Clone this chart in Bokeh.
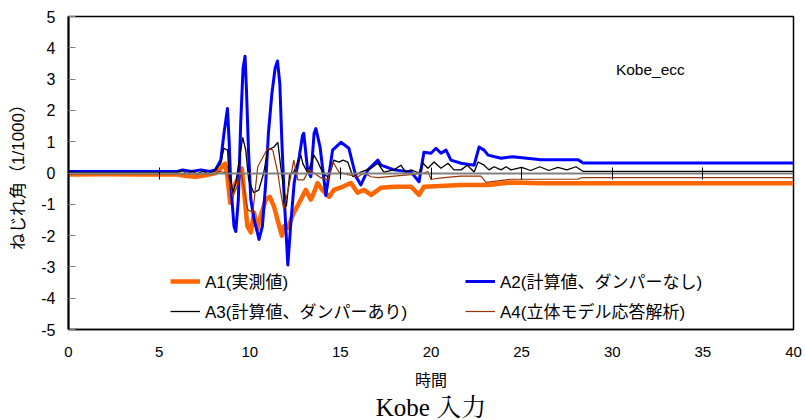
from bokeh.plotting import figure
from bokeh.models import (LinearAxis, Legend, LegendItem, Label, Range1d,
                          FixedTicker, Title)
from bokeh.embed import file_html
from bokeh.resources import INLINE

# ---------------- data ----------------
a1_t = [0, 2, 4, 6.0, 6.5, 7.0, 7.5, 8.12, 8.4, 8.64, 8.77, 8.92, 9.1, 9.32, 9.56,
        9.69, 9.87, 10.06, 10.24, 10.42, 10.6, 10.88, 11.1, 11.34, 11.53, 11.77,
        11.9, 12.1, 12.43, 12.82, 13.09, 13.37, 13.54, 13.74, 14.0, 14.38, 14.64,
        15.12, 15.58, 15.95, 16.3, 16.7, 17.24, 17.96, 18.9, 19.34, 19.61, 21.66,
        23.15, 24.4, 26, 30, 35, 40]
a1_v = [-0.05, -0.04, -0.05, -0.05, -0.1, -0.12, -0.08, 0.0, 0.15, 0.3, -0.12,
        -0.95, -0.44, -0.22, 0.15, -0.63, -1.7, -1.9, -1.27, -1.8, -1.39, -0.85,
        -0.76, -1.07, -1.49, -2.0, -1.7, -1.75, -1.27, -0.85, -0.54, -0.85, -0.63,
        -0.32, -0.54, -0.76, -0.54, -0.44, -0.32, -0.63, -0.54, -0.7, -0.47, -0.44,
        -0.44, -0.7, -0.44, -0.38, -0.38, -0.3, -0.33, -0.33, -0.33, -0.33]

a2_t = [0, 6.0, 6.3, 6.8, 7.3, 7.8, 8.1, 8.4, 8.58, 8.77, 8.86, 8.95, 9.13, 9.23,
        9.37, 9.5, 9.63, 9.74, 9.82, 9.93, 10.06, 10.24, 10.42, 10.51, 10.7, 10.88,
        11.03, 11.22, 11.4, 11.53, 11.66, 11.77, 11.9, 12.1, 12.27, 12.45, 12.73,
        12.91, 12.98, 13.19, 13.37, 13.55, 13.65, 13.88, 14.2, 14.57, 15.03, 15.47,
        15.86, 16.13, 16.52, 17.07, 17.24, 17.96, 18.9, 19.34, 19.61, 20.0, 20.28,
        20.55, 20.83, 21.1, 21.66, 22.38, 22.65, 22.93, 23.15, 23.87, 24.5, 26.08,
        28.12, 28.4, 40]
a2_v = [0.05, 0.05, 0.1, 0.05, 0.1, 0.05, 0.1, 0.41, 1.27, 2.06, 1.04, -0.32, -1.7,
        -1.87, -0.85, 1.58, 3.35, 3.73, 2.63, 0.73, -0.85, -1.49, -1.9, -2.12, -1.7,
        -0.32, 1.27, 2.53, 3.35, 3.58, 2.85, 1.04, -0.76, -2.94, -1.58, -0.32, 0.51,
        1.2, 1.27, 0.1, -0.12, 1.27, 1.42, 0.83, -0.72, 0.73, 0.98, 0.79, -0.12,
        -0.38, 0.1, 0.41, 0.25, 0.1, 0.03, -0.28, 0.66, 0.63, 0.79, 0.63, 0.73, 0.41,
        0.31, 0.25, 0.83, 0.73, 0.57, 0.47, 0.52, 0.42, 0.42, 0.32, 0.32]

a3_t = [0, 6.0, 6.3, 6.5, 6.8, 7.1, 7.4, 7.7, 8.0, 8.4, 8.57, 8.78, 8.84, 9.06,
        9.23, 9.61, 9.78, 9.94, 10.22, 10.5, 10.77, 10.99, 11.33, 11.55, 11.71,
        11.88, 12.02, 12.2, 12.43, 12.82, 12.93, 13.2, 13.54, 13.76, 14.03, 14.36,
        14.64, 14.92, 15.14, 15.41, 15.69, 16.13, 16.69, 17.07, 17.4, 17.96, 18.34,
        18.6, 18.9, 19.34, 19.56, 19.83, 20.17, 20.55, 20.94, 21.27, 21.66, 22.0,
        22.38, 22.6, 22.93, 23.2, 23.48, 23.87, 24.14, 24.42, 25.0, 25.5, 26.0,
        26.5, 27.0, 27.5, 28.0, 28.4, 40]
a3_v = [0.02, 0.02, 0.08, -0.02, 0.06, -0.03, 0.05, -0.02, 0.05, 0.3, 0.79, 0.73,
        0.0, -0.63, -0.32, 1.14, 0.73, -0.22, -0.63, -0.54, 0.0, 0.73, 0.83, 0.98,
        0.2, -0.54, -1.07, -0.05, 0.03, 0.57, 0.3, 0.0, 0.57, 0.35, 0.0, -0.15, 0.41,
        0.35, 0.41, 0.35, -0.12, 0.03, 0.15, 0.31, 0.03, 0.1, 0.25, 0.03, 0.1, 0.0,
        0.31, 0.15, 0.35, 0.15, 0.31, 0.1, 0.1, 0.25, 0.03, 0.35, 0.25, 0.1, 0.2, 0.1,
        0.2, 0.1, 0.18, 0.08, 0.2, 0.08, 0.18, 0.1, 0.2, 0.05, 0.05]

a4_t = [0, 8.0, 8.3, 8.78, 9.06, 9.39, 9.5, 9.89, 10.17, 10.44, 10.99, 11.27, 11.55,
        11.71, 11.88, 12.15, 12.43, 12.65, 12.98, 13.26, 13.54, 13.92, 14.31, 14.59,
        14.92, 15.41, 15.97, 16.3, 16.69, 17.07, 17.96, 18.9, 19.61, 19.83, 20.0,
        20.72, 21.66, 22.76, 23.04, 24.42, 28.12, 28.3, 40]
a4_v = [-0.03, -0.03, 0.05, 0.0, -0.75, -0.32, 0.1, -1.17, -1.27, 0.2, 0.79, 0.73,
        0.0, -0.63, -1.17, -0.44, 0.41, -0.22, -0.22, 0.1, 0.0, -0.15, -0.22, 0.35,
        0.03, -0.05, -0.12, 0.0, -0.12, -0.15, -0.1, -0.05, 0.0, 0.05, -0.2, -0.15,
        -0.1, -0.1, -0.3, -0.2, -0.2, -0.15, -0.15]

series_names = ["A1(実測値)", "A2(計算値、ダンパーなし)",
                "A3(計算値、ダンパーあり)", "A4(立体モデル応答解析)"]
x_ticks = [0, 5, 10, 15, 20, 25, 30, 35, 40]
y_ticks = [-5, -4, -3, -2, -1, 0, 1, 2, 3, 4, 5]
y_tick_labels = {t: str(t) for t in y_ticks}

SANS = "Liberation Sans, Noto Sans CJK JP"
SERIF = "Liberation Serif, Noto Serif CJK JP, Noto Sans CJK JP"

p = figure(width=805, height=420, output_backend="svg", toolbar_location=None,
           x_range=Range1d(0, 40), y_range=Range1d(-5, 5),
           min_border_left=68, min_border_right=12, min_border_top=16,
           min_border_bottom=88)
p.background_fill_color = "white"
p.border_fill_color = "white"
p.outline_line_color = "black"
p.outline_line_width = 1.5
p.xgrid.visible = False
p.ygrid.visible = False

# main bottom axis: labels only
xa = p.xaxis[0]
xa.ticker = FixedTicker(ticks=x_ticks)
xa.major_tick_in = 0
xa.major_tick_out = 0
xa.minor_tick_line_color = None
xa.axis_line_color = "black"
xa.axis_line_width = 1.5
xa.major_label_standoff = 17
xa.major_label_text_font = SANS
xa.major_label_text_font_size = "15px"
xa.major_label_text_color = "black"
xa.axis_label = "時間"
xa.axis_label_text_font = SANS
xa.axis_label_text_font_size = "16px"
xa.axis_label_text_font_style = "normal"
xa.axis_label_text_color = "black"
xa.axis_label_standoff = 12

ya = p.yaxis[0]
ya.ticker = FixedTicker(ticks=y_ticks)
ya.major_label_overrides = y_tick_labels
ya.major_tick_in = 7
ya.major_tick_out = 0
ya.major_tick_line_color = "#808080"
ya.minor_tick_line_color = None
ya.axis_line_color = "black"
ya.axis_line_width = 2
ya.major_label_standoff = 13
ya.major_label_text_font = SANS
ya.major_label_text_font_size = "16px"
ya.major_label_text_color = "black"
ya.axis_label = "ねじれ角（1/1000）"
ya.axis_label_text_font = SANS
ya.axis_label_text_font_size = "17px"
ya.axis_label_text_font_style = "normal"
ya.axis_label_text_color = "black"
ya.axis_label_standoff = 10

# axis drawn on the zero line
zero_axis = LinearAxis(fixed_location=0, ticker=FixedTicker(ticks=x_ticks),
                       major_tick_in=6, major_tick_out=6,
                       major_tick_line_color="black",
                       minor_tick_line_color=None,
                       axis_line_color="#808080", axis_line_width=2,
                       major_label_text_font_size="0px",
                       major_label_text_color=None)
p.add_layout(zero_axis, "below")

r1 = p.line(a1_t, a1_v, line_color="#FF6600", line_width=4.5, line_join="round")
r2 = p.line(a2_t, a2_v, line_color="#0000FF", line_width=3, line_join="round")
r3 = p.line(a3_t, a3_v, line_color="black", line_width=1.3)
r4 = p.line(a4_t, a4_v, line_color="#993300", line_width=1.2)

def make_legend(items, loc):
    lg = Legend(items=items, location=loc, border_line_color=None,
                background_fill_alpha=0, padding=0, margin=0, spacing=5,
                glyph_width=30, glyph_height=20, label_height=20,
                label_standoff=5, label_text_font=SANS,
                label_text_font_size="17px", label_text_color="black")
    p.add_layout(lg, "center")

make_legend([LegendItem(label=series_names[0], renderers=[r1]),
             LegendItem(label=series_names[2], renderers=[r3])], (102, 6))
make_legend([LegendItem(label=series_names[1], renderers=[r2]),
             LegendItem(label=series_names[3], renderers=[r4])], (397, 6))

p.add_layout(Label(x=30.2, y=3.32, text="Kobe_ecc", text_font=SANS,
                   text_font_size="15.5px", text_baseline="middle",
                   text_color="black"))

p.add_layout(Title(text="Kobe 入力", align="center", text_font=SERIF,
                   text_font_size="25px", text_font_style="normal",
                   text_color="black", standoff=0), "below")

open("out.html", "w").write(file_html(p, INLINE))
